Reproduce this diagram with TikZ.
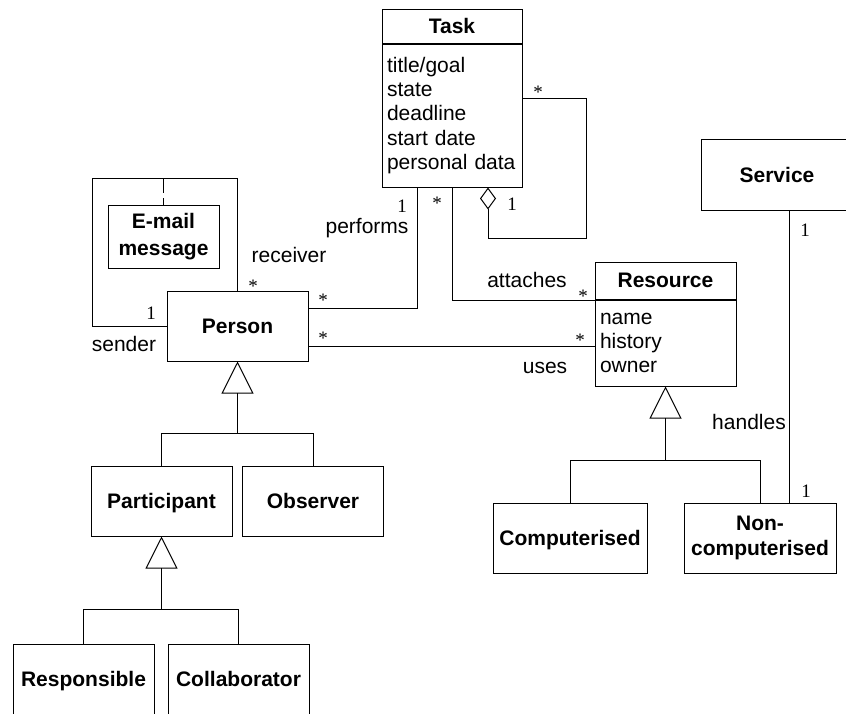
\documentclass[tikz,border=0pt]{standalone}
\usepackage{fontspec}
\setmainfont{Liberation Sans}
\newfontfamily\multfont{Liberation Serif}
\usepackage{tikz}
\usetikzlibrary{positioning, arrows.meta, calc}

\def\diagfont{\fontsize{21}{24.3}\selectfont}
\def\multsize{\multfont\fontsize{19}{19}\selectfont}

\tikzset{
    twolinebox/.style={draw, font=\diagfont\bfseries, align=center,
        minimum width=141pt, minimum height=70pt, inner sep=0pt},
    classbox/.style={twolinebox, text height=15pt, text depth=0pt},
    classhead/.style={draw, font=\diagfont\bfseries, minimum width=#1, inner sep=0pt},
    attrbox/.style={draw, font=\diagfont, align=left, anchor=north,
        inner xsep=5pt, inner ysep=0pt},
    mult/.style={font=\multsize, inner sep=0pt, text height=13pt, text depth=0pt},
    rolename/.style={font=\diagfont, inner sep=0pt, text height=15pt, text depth=5pt},
    generalise/.style={-{Triangle[open, length=32pt, width=32pt]}},
    aggregate/.style={-{Diamond[open, length=22pt, width=16pt]}}
}

\begin{document}
\begin{tikzpicture}[x=1pt, y=-1pt, line width=1pt]
    \useasboundingbox (0,0) rectangle (846,713);
    \clip (0,0) rectangle (846,713);

    % classes with attributes
    \node[classhead=140pt, minimum height=34pt] (task) at (452,26) {Task};
    \node[attrbox, text width=130pt, minimum height=143pt] (taskattr) at (task.south)
        {title/goal\\state\\deadline\\start date\\personal data};
    \node[classhead=141pt, minimum height=37pt] (resource) at (665.5,280.5) {Resource};
    \node[attrbox, text width=131pt, minimum height=86pt] (resattr) at (resource.south)
        {name\\history\\owner};

    % plain classes
    \node[classbox] (person) at (237.5,326) {Person};
    \node[twolinebox, minimum width=111pt, minimum height=63pt] (email) at (163.5,236.5) {E-mail\\[2pt]message};
    \node[classbox] (participant) at (161.5,501) {Participant};
    \node[classbox] (observer) at (313,501) {Observer};
    \node[classbox] (responsible) at (83.5,679) {Responsible};
    \node[classbox] (collaborator) at (238.5,679) {Collaborator};
    \node[classbox, minimum width=154pt] (computerised) at (570,538) {Computerised};
    \node[twolinebox, minimum width=152pt] (noncomp) at (760,538) {Non-\\[1pt]computerised};
    \node[classbox, minimum width=152pt, minimum height=71pt] (service) at (777,174.5) {Service};

    % bend points
    \coordinate (perfbend) at (417,308);
    \coordinate (attbend) at (452,300);
    \coordinate (aggtop) at (586,98);
    \coordinate (aggbottom) at (586,238);
    \coordinate (mailleft) at (92,178);
    \coordinate (genperson) at (237.5,433);
    \coordinate (genparticipant) at (161.5,609);
    \coordinate (genresource) at (665.5,460);

    % associations
    \draw (taskattr.south -| perfbend) -- (perfbend) -- (person.east |- perfbend);
    \draw (taskattr.south -| attbend) -- (attbend) -- (resource.west |- attbend);
    \draw ([yshift=-20pt]person.east) coordinate (usesstart) -- (usesstart -| resattr.west);
    \draw (service.south -| 789,0) -- (noncomp.north -| 789,0);

    % aggregation of tasks
    \draw[aggregate] (taskattr.east |- aggtop) -- (aggtop) -- (aggbottom)
        -- (aggbottom -| 488,0) -- (taskattr.south -| 488,0);

    % e-mail between persons
    \draw (person.west) -| (mailleft) -| (person.north);
    \draw[dash pattern=on 15pt off 5pt] (email.north |- mailleft) -- (email.north);

    % generalisations
    \draw (participant.north) |- (genperson);
    \draw (observer.north) |- (genperson);
    \draw[generalise] (genperson) -- (person.south);
    \draw (responsible.north) |- (genparticipant);
    \draw (collaborator.north) |- (genparticipant);
    \draw[generalise] (genparticipant) -- (participant.south);
    \draw (computerised.north) |- (genresource);
    \draw (noncomp.north) |- (genresource);
    \draw[generalise] (genresource) -- (resattr.south);

    % multiplicities
    \foreach \name/\x/\y/\txt in {
        aggmany/538/92/*,
        aggone/512/204/1,
        perfone/402/206/1,
        perfmany/323/300/*,
        attmanytask/437/203/*,
        attmanyres/583/296/*,
        usesmanyperson/323/338/*,
        usesmanyres/580/340/*,
        senderone/151/313/1,
        receivermany/253/286/*,
        serviceone/805/230/1,
        noncompone/806/491/1}{

        \node[mult] (\name) at (\x,\y) {\txt};
    }

    % role names
    \foreach \name/\x/\y/\txt in {
        performs/367/228/performs,
        attaches/527/282/attaches,
        uses/545/368/uses,
        sender/124/346/sender,
        receiver/289/257/receiver,
        handles/749/424/handles}{

        \node[rolename] (\name) at (\x,\y) {\txt};
    }
\end{tikzpicture}
\end{document}
